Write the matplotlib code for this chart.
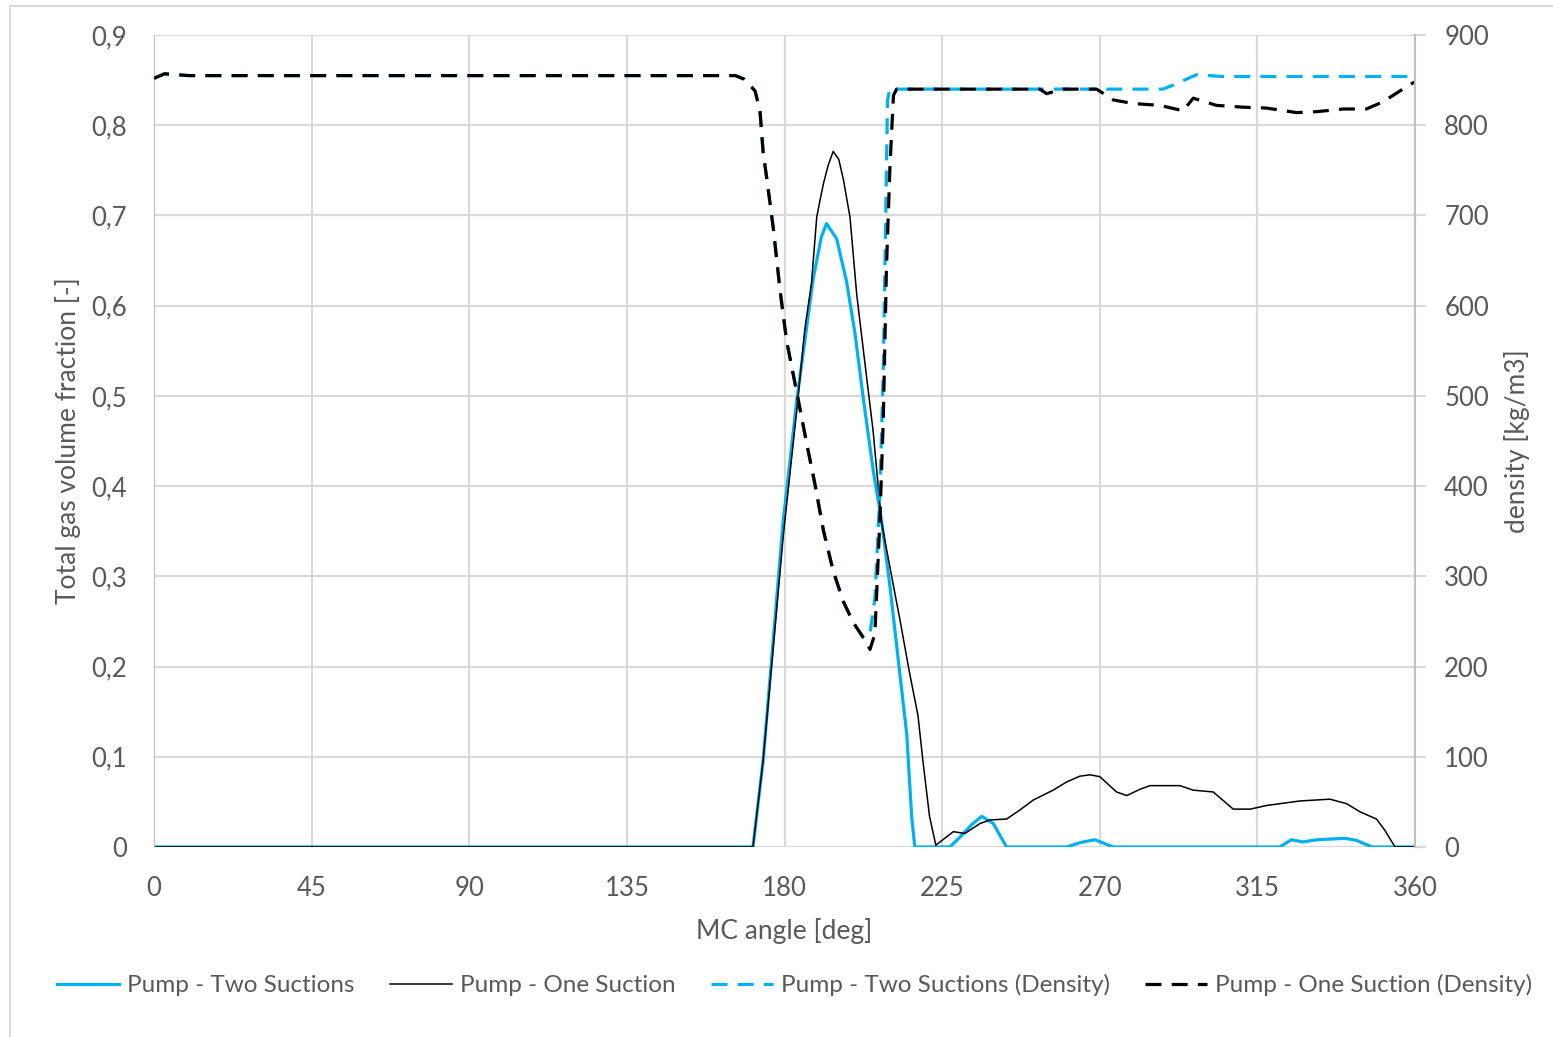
import matplotlib
matplotlib.use("Agg")
import matplotlib.pyplot as plt
from matplotlib.ticker import FuncFormatter
from matplotlib.patches import Rectangle

plt.rcParams['font.family'] = ['Lato', 'DejaVu Sans']

# gas volume fraction, pump with two suctions
ang_gvf_two = [0, 171.0, 173.9, 179.6, 183.5, 188.2, 190.5, 192.0, 194.9, 197.7,
               200.1, 202.5, 205.3, 207.7, 210.1, 212.9, 214.9, 216.3, 217.2,
               227.2, 230.1, 233.5, 236.3, 239.6, 243.4, 260.5, 264.5, 268.6,
               273.9, 321.4, 324.7, 328.0, 331.9, 340.0, 343.3, 347.1, 348.0, 360]
gvf_two = [0, 0, 0.096, 0.36, 0.495, 0.63, 0.676, 0.691, 0.674, 0.627,
           0.57, 0.497, 0.418, 0.362, 0.289, 0.193, 0.125, 0.034, 0,
           0, 0.011, 0.025, 0.034, 0.026, 0, 0, 0.005, 0.008,
           0, 0, 0.008, 0.0056, 0.008, 0.0096, 0.0074, 0.001, 0, 0]

# gas volume fraction, pump with one suction
ang_gvf_one = [0, 171.0, 173.9, 179.6, 183.5, 185.8, 187.7, 189.2, 190.2, 191.1,
               192.5, 193.9, 195.5, 196.8, 198.7, 200.6, 202.5, 205.3, 207.7,
               210.1, 212.9, 215.8, 218.1, 219.5, 221.4, 223.2, 228.2, 231.5,
               235.8, 238.7, 243.4, 247.2, 251.0, 256.7, 260.5, 264.3, 267.2,
               270.0, 274.8, 277.7, 281.5, 284.3, 292.9, 296.7, 302.4, 308.1,
               313.0, 317.6, 327.1, 335.7, 340.5, 344.3, 349.0, 351.4, 354.3, 360]
gvf_one = [0, 0, 0.096, 0.343, 0.484, 0.574, 0.625, 0.698, 0.718, 0.735,
           0.756, 0.771, 0.762, 0.74, 0.698, 0.613, 0.551, 0.461, 0.36,
           0.31, 0.253, 0.191, 0.146, 0.096, 0.034, 0.002, 0.017, 0.015,
           0.026, 0.030, 0.031, 0.041, 0.052, 0.063, 0.072, 0.0785, 0.080,
           0.078, 0.061, 0.057, 0.064, 0.068, 0.068, 0.063, 0.061, 0.042,
           0.042, 0.046, 0.051, 0.053, 0.048, 0.039, 0.031, 0.0185, 0, 0]

# density [kg/m3], two suctions
ang_rho_two = [0, 3, 10, 166.0, 168.5, 171.6, 173.0, 173.9, 174.9, 176.8, 178.7,
               180.6, 183.5, 186.3, 188.7, 191.1, 193.9, 196.8, 199.6, 202.5,
               204.4, 205.8, 207.2, 208.2, 208.9, 209.4, 210.0, 288.1, 291.9,
               297.6, 305, 360]
rho_two = [852, 857, 855, 855, 851, 838, 816, 770, 742, 686, 618,
           561, 504, 448, 402, 351, 306, 272, 249, 232,
           236, 276, 388, 529, 698, 827, 840, 840, 846,
           856, 854, 854]

# density [kg/m3], one suction
ang_rho_one = [0, 3, 10, 166.0, 168.5, 171.6, 173.0, 173.9, 174.9, 176.8, 178.7,
               180.6, 183.5, 186.3, 188.7, 191.1, 193.9, 196.8, 199.6, 202.5,
               204.4, 205.8, 207.2, 208.2, 209.1, 210.1, 211.1, 212.0, 252.9,
               254.8, 259.5, 269.1, 273.9, 279.6, 287.2, 293.8, 296.7, 303.3,
               310.9, 317.6, 326.2, 331.9, 339.5, 346.1, 350.9, 358.5, 360]
rho_one = [852, 857, 855, 855, 851, 838, 816, 770, 742, 686, 618,
           561, 504, 448, 402, 351, 306, 272, 249, 232,
           219, 236, 360, 473, 641, 754, 833, 840, 840,
           835, 840, 840, 828, 824, 822, 816, 830, 822,
           820, 819, 814, 815, 818, 818, 826, 845, 848]

x_ticks = list(range(0, 361, 45))
gvf_ticks = [i / 10 for i in range(10)]
rho_ticks = list(range(0, 901, 100))

blue = '#00B0F0'
grey_txt = '#595959'
grid_c = '#D9D9D9'

fig = plt.figure(figsize=(15.53, 10.37), dpi=100)
ax = fig.add_axes([154 / 1553, 1 - 847 / 1037, (1415 - 154) / 1553, (847 - 35) / 1037])
ax2 = ax.twinx()

fig.patches.append(Rectangle((10 / 1553, -0.01), 1.1, 1 - 6 / 1037 + 0.01,
                             transform=fig.transFigure, fill=False,
                             edgecolor=grid_c, linewidth=1.5))

l1, = ax.plot(ang_gvf_two, gvf_two, color=blue, lw=2.3, label='Pump - Two Suctions')
l2, = ax.plot(ang_gvf_one, gvf_one, color='black', lw=1.1, label='Pump - One Suction')
l3, = ax2.plot(ang_rho_two, rho_two, color=blue, lw=2.3, dashes=(5, 3.2),
               label='Pump - Two Suctions (Density)')
l4, = ax2.plot(ang_rho_one, rho_one, color='black', lw=2.3, dashes=(5, 3.2),
               label='Pump - One Suction (Density)')

ax.set_xlim(0, 360)
ax.set_ylim(0, 0.9)
ax2.set_ylim(0, 900)
ax.set_xticks(x_ticks)
ax.set_yticks(gvf_ticks)
ax2.set_yticks(rho_ticks)
ax.yaxis.set_major_formatter(FuncFormatter(
    lambda v, p: '0' if v == 0 else ('%.1f' % v).replace('.', ',')))

ax.grid(True, color=grid_c, lw=1.5)
ax.set_axisbelow(True)
for a in (ax, ax2):
    for s in a.spines.values():
        s.set_visible(False)
ax.spines['left'].set_visible(True)
ax.spines['left'].set_color('#BFBFBF')
ax2.spines['right'].set_visible(True)
ax2.spines['right'].set_color('#BFBFBF')
ax2.spines['right'].set_linewidth(1.5)

ax.tick_params(axis='both', length=0, labelsize=18.5, labelcolor=grey_txt)
ax.tick_params(axis='x', pad=21)
ax.tick_params(axis='y', pad=19.5)
ax2.tick_params(axis='y', length=8, width=1.5, color=grid_c, labelsize=18.5,
                labelcolor=grey_txt, pad=13, direction='out')

ax.set_xlabel('MC angle [deg]', fontsize=19, color=grey_txt, labelpad=12)
ax.set_ylabel('Total gas volume fraction [-]', fontsize=19, color=grey_txt, labelpad=7)
ax2.set_ylabel('density [kg/m3]', fontsize=19, color=grey_txt, labelpad=11)

fig.legend(handles=[l1, l2, l3, l4], loc='center',
           bbox_to_anchor=((0.5 * 1553 + 18) / 1553, 1 - 985 / 1037),
           ncol=4, frameon=False, fontsize=17.5, labelcolor=grey_txt,
           handlelength=2.55, handletextpad=0.33, columnspacing=1.45)

fig.savefig('out.png', dpi=100)
